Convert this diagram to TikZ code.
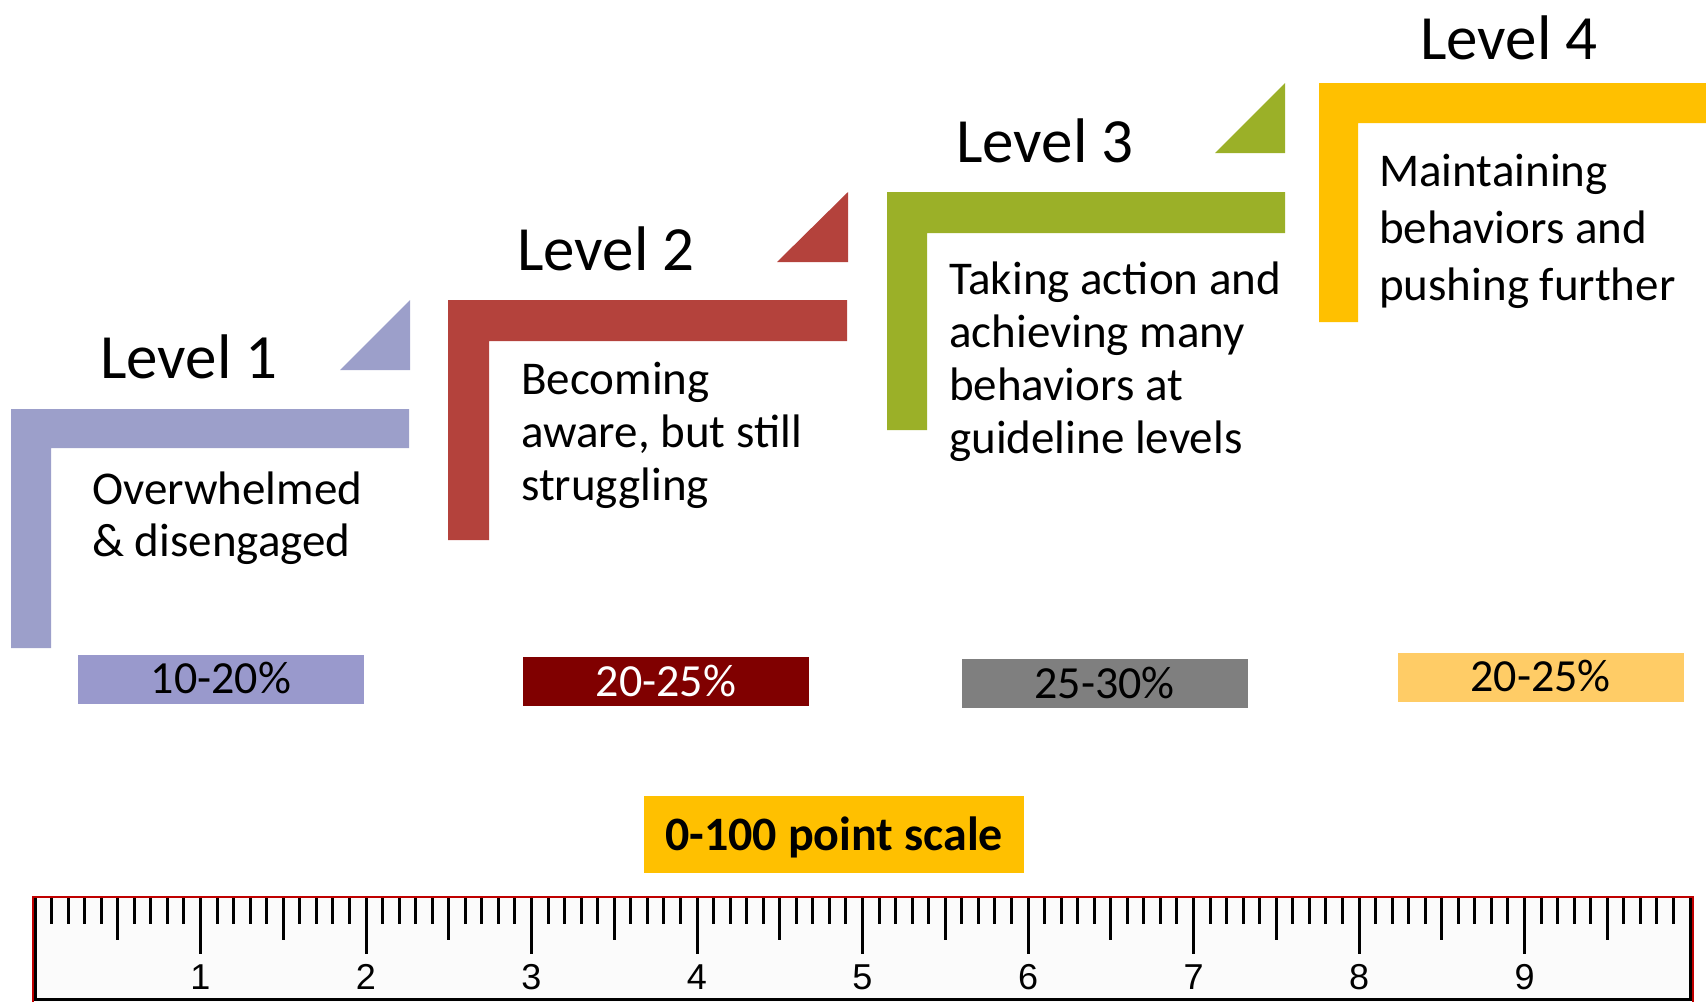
\documentclass[tikz,border=0pt]{standalone}
\usepackage{fontspec}
\setmainfont{Carlito}
\newfontfamily\rulerfont{Liberation Sans}

\definecolor{lvone}{HTML}{9C9FCA}
\definecolor{lvtwo}{HTML}{B4423C}
\definecolor{lvthree}{HTML}{9BB028}
\definecolor{lvfour}{HTML}{FFC000}
\definecolor{pctone}{HTML}{9999CC}
\definecolor{pcttwo}{HTML}{800000}
\definecolor{pctthree}{HTML}{7F7F7F}
\definecolor{pctfour}{HTML}{FFCC66}
\definecolor{rulerred}{HTML}{C00000}
\definecolor{rulerbg}{HTML}{FBFBFB}

\begin{document}
\begin{tikzpicture}[x=1pt,y=-1pt,
  heading/.style={anchor=base west, inner sep=0pt, font=\fontsize{63}{70}\selectfont},
  % multi-line nodes: the base anchor sits on the last line's baseline
  body/.style={anchor=base west, inner sep=0pt, align=left, font=\fontsize{47}{#1}\selectfont},
  pctbox/.style={fill=#1, inner sep=0pt, minimum width=286pt, minimum height=49pt,
    text height=29pt, text depth=0pt, font=\fontsize{46}{50}\selectfont},
  tickmark/.style={line width=3pt, black},
  rulernum/.style={inner sep=0pt, font=\rulerfont\fontsize{36}{38}\selectfont}]
\useasboundingbox (0,0) rectangle (1706,1002);

% Level 1 step and corner triangle
\fill[lvone] (11,409) -- (409,409) -- (409,448) -- (51,448) -- (51,648) -- (11,648) -- cycle;
\fill[lvone] (340,370) -- (410,370) -- (410,300) -- cycle;
% Level 2
\fill[lvtwo] (448,300) -- (847,300) -- (847,341) -- (489,341) -- (489,540) -- (448,540) -- cycle;
\fill[lvtwo] (777,262) -- (848,262) -- (848,192) -- cycle;
% Level 3
\fill[lvthree] (887,192) -- (1285,192) -- (1285,233) -- (927,233) -- (927,430) -- (887,430) -- cycle;
\fill[lvthree] (1215,153) -- (1285,153) -- (1285,83) -- cycle;
% Level 4
\fill[lvfour] (1319,83) -- (1706,83) -- (1706,123) -- (1358,123) -- (1358,322) -- (1319,322) -- cycle;

% Headings
\node[heading] (h1) at (100,378) {Level 1};
\node[heading] (h2) at (517,270) {Level 2};
\node[heading] (h3) at (956,162) {Level 3};
\node[heading] (h4) at (1420,59) {Level 4};

% Descriptions
\node[body=52] (b1) at (92,556) {Overwhelmed\\\& disengaged};
\node[body=53] (b2) at (521,500) {Becoming\\aware, but still\\struggling};
\node[body=53] (b3) at (949,453) {Taking action and\\achieving many\\behaviors at\\guideline levels};
\node[body=57] (b4) at (1379,300) {Maintaining\\behaviors and\\pushing further};

% Share of participants
\node[pctbox=pctone] (p1) at (221,679) {10-20\%};
\node[pctbox=pcttwo, text=white] (p2) at (666,681.5) {20-25\%};
\node[pctbox=pctthree] (p3) at (1104.5,683.5) {25-30\%};
\node[pctbox=pctfour] (p4) at (1540.5,677) {20-25\%};

% Scale label
\node[fill=lvfour, inner sep=0pt, minimum width=380pt, minimum height=77pt,
  text height=32pt, text depth=0pt, font=\bfseries\fontsize{48}{52}\selectfont]
  (scale) at (834,834.5) {0-100 point scale};

% Ruler
\fill[rulerbg] (33,897) rectangle (1693,1002);
\foreach \i in {1,...,99}{
  \pgfmathsetmacro\tx{35+16.55*\i}
  \pgfmathtruncatemacro\rem{mod(\i,10)}
  \ifnum\rem=0 \def\tl{954}\else\ifnum\rem=5 \def\tl{940}\else\def\tl{924}\fi\fi
  \draw[tickmark] (\tx,898) -- (\tx,\tl);
}
\foreach \n in {1,...,9}{
  \node[rulernum] (num\n) at (35+165.5*\n,977) {\n};
}
\draw[black, line width=2.5pt] (35.5,898) -- (35.5,999.5) -- (1690.5,999.5) -- (1690.5,898);
\draw[rulerred, line width=1.6pt] (33,1002) -- (33,897) -- (1693,897) -- (1693,1002);
\end{tikzpicture}
\end{document}
